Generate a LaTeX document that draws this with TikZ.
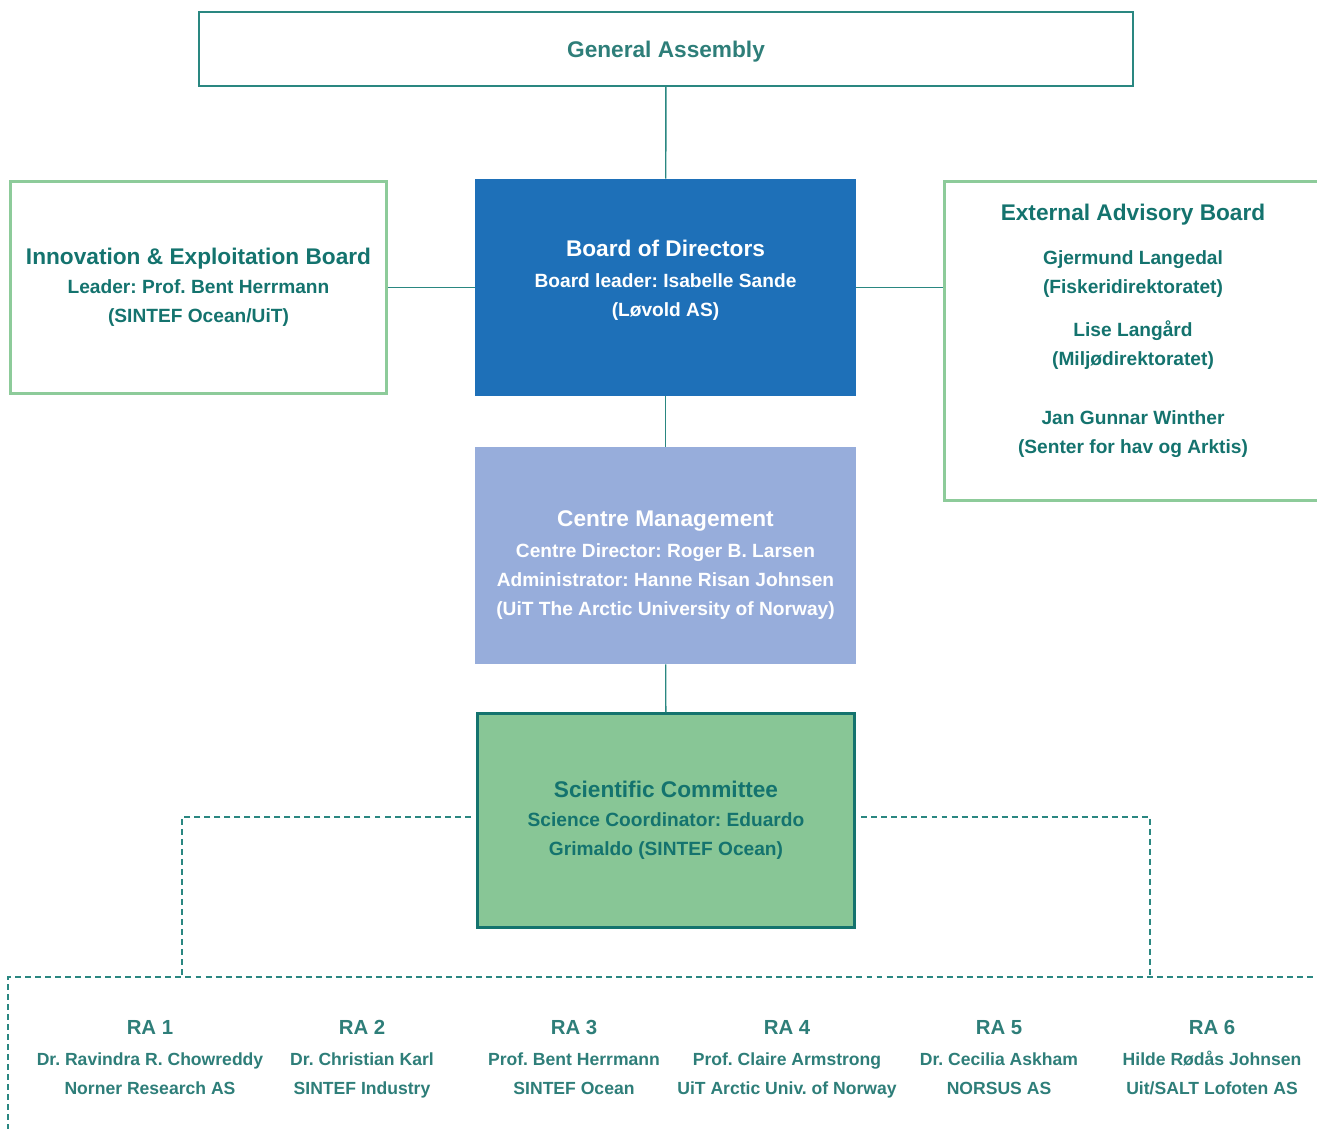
\documentclass[tikz,border=0pt]{standalone}
\usepackage{fontspec}
\setmainfont{Liberation Sans}
\frenchspacing
\usetikzlibrary{positioning}
\definecolor{tealtxt}{HTML}{14736E}
\definecolor{tealline}{HTML}{2A8781}
\definecolor{greenline}{HTML}{8DCB9A}
\definecolor{bodblue}{HTML}{1E70B8}
\definecolor{cmblue}{HTML}{97ADDB}
\definecolor{scgreen}{HTML}{88C696}
\definecolor{ratxt}{HTML}{2E7E79}
\newcommand\hdfont{\fontsize{12.9}{16.5}\selectfont\bfseries}
\newcommand\bdfont{\fontsize{10.9}{16.5}\selectfont\bfseries}
\newcommand\rahead{\fontsize{11.6}{16.5}\selectfont\bfseries}
\newcommand\rabody{\fontsize{10}{16.5}\selectfont\bfseries}
\newcommand\uppad[1]{\rule{0pt}{#1}}
\newcommand\lowpad[1]{\rule[-#1]{0pt}{0pt}}
\tikzset{>=latex}
\tikzset{
  orgbox/.style={rectangle, inner sep=0pt, align=center, font=\bdfont, text=tealtxt},
  greenbox/.style={orgbox, draw=greenline, line width=1.7pt},
  conn/.style={draw=tealline, line width=0.8pt},
  dashconn/.style={draw=tealline, line width=0.7pt, dash pattern=on 3.4pt off 2.3pt},
  ranode/.style={inner sep=0pt, align=center, font=\rabody, text=ratxt}
}
\begin{document}
\begin{tikzpicture}[x=0.02cm, y=-0.02cm]
    \path[use as bounding box, clip](0, 0)rectangle(1317, 1128);
    \node[orgbox, draw=tealline, line width=0.8pt, minimum width=18.68cm, minimum height=1.48cm, font=\hdfont, text=ratxt](ga) at (666, 49){\uppad{12.6pt}General Assembly};
    \node[orgbox, fill=bodblue, text=white, minimum width=7.62cm, minimum height=4.34cm](bod) at (665.5, 287.5){{\hdfont Board of Directors}\\[1pt]Board leader: Isabelle Sande\\(Løvold AS)\lowpad{10.3pt}};
    \node[greenbox, minimum width=7.54cm, minimum height=4.26cm](inno) at (198.5, 287.5){{\hdfont Innovation \& Exploitation Board}\\Leader: Prof. Bent Herrmann\\(SINTEF Ocean/UiT)};
    \node[greenbox, minimum width=7.56cm, minimum height=6.38cm](eab) at (1133, 341){{\hdfont External Advisory Board}\\[8.5pt]Gjermund Langedal\\(Fiskeridirektoratet)\\[8pt]Lise Langård\\(Miljødirektoratet)\\[17pt]Jan Gunnar Winther\\(Senter for hav og Arktis)\lowpad{13.7pt}};
    \node[orgbox, fill=cmblue, text=white, minimum width=7.62cm, minimum height=4.34cm](cm) at (665.5, 555.5){{\hdfont\uppad{19.8pt}Centre Management}\\[1pt]Centre Director: Roger B. Larsen\\Administrator: Hanne Risan Johnsen\\(UiT The Arctic University of Norway)};
    \node[orgbox, fill=scgreen, draw=tealtxt, line width=1.6pt, minimum width=7.55cm, minimum height=4.27cm](sc) at (666, 820.5){{\hdfont Scientific Committee}\\Science Coordinator: Eduardo\\Grimaldo (SINTEF Ocean)};
    \draw[conn](ga)--(bod);
    \draw[conn](inno)--(bod);
    \draw[conn](bod.east)--(bod.east -| eab.west);
    \draw[conn](bod)--(cm);
    \draw[conn](cm)--(sc);
    \coordinate (raleft) at (182, 977);
    \coordinate (raright) at (1150, 977);
    \coordinate (rabottom) at (8, 1140);
    \coordinate (raend) at (1330, 977);
    \draw[dashconn]([xshift=-3pt, yshift=2pt]sc.west)-|(raleft);
    \draw[dashconn]([xshift=3pt, yshift=2pt]sc.east)-|(raright);
    \draw[dashconn](rabottom)|-(raend);
    \node[ranode](ra1) at (150, 1059){{\rahead\strut RA 1}\\[1pt]Dr. Ravindra R. Chowreddy\\Norner Research AS\strut};
    \node[ranode](ra2) at (362, 1059){{\rahead\strut RA 2}\\[1pt]Dr. Christian Karl\\SINTEF Industry\strut};
    \node[ranode](ra3) at (574, 1059){{\rahead\strut RA 3}\\[1pt]Prof. Bent Herrmann\\SINTEF Ocean\strut};
    \node[ranode](ra4) at (787, 1059){{\rahead\strut RA 4}\\[1pt]Prof. Claire Armstrong\\UiT Arctic Univ. of Norway\strut};
    \node[ranode](ra5) at (999, 1059){{\rahead\strut RA 5}\\[1pt]Dr. Cecilia Askham\\NORSUS AS\strut};
    \node[ranode](ra6) at (1212, 1059){{\rahead\strut RA 6}\\[1pt]Hilde Rødås Johnsen\\Uit/SALT Lofoten AS\strut};
\end{tikzpicture}
\end{document}
